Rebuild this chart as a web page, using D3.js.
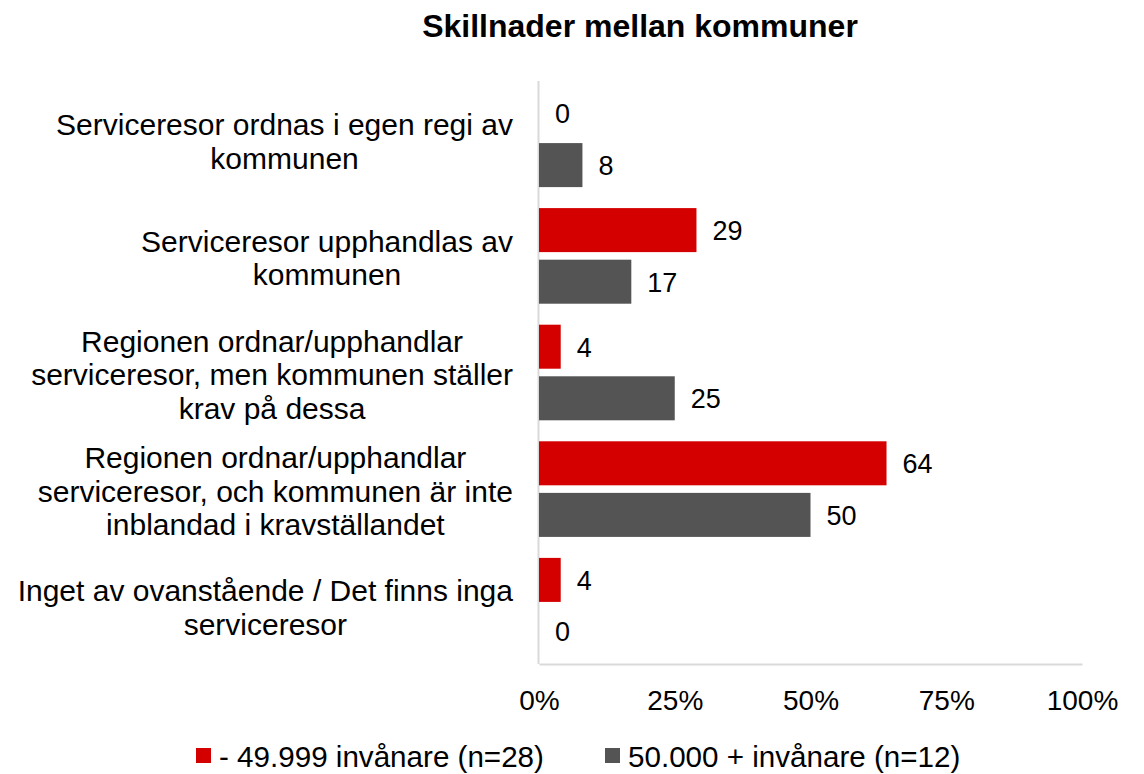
<!DOCTYPE html>
<html>
<head>
<meta charset="utf-8">
<script src="https://cdn.jsdelivr.net/npm/d3@7"></script>
<style>
  body { margin: 0; background: #fff; }
  text { font-family: "Liberation Sans", Arial, sans-serif; fill: #000; }
</style>
</head>
<body>
<svg id="chart" width="1144" height="774"></svg>
<script>
// data
const categories = [
  ["Serviceresor ordnas i egen regi av", "kommunen"],
  ["Serviceresor upphandlas av", "kommunen"],
  ["Regionen ordnar/upphandlar", "serviceresor, men kommunen ställer", "krav på dessa"],
  ["Regionen ordnar/upphandlar", "serviceresor, och kommunen är inte", "inblandad i kravställandet"],
  ["Inget av ovanstående / Det finns inga", "serviceresor"]
];
const seriesNames = ["- 49.999 invånare (n=28)", "50.000 + invånare (n=12)"];
const smallValues = [0, 29, 4, 64, 4];
const largeValues = [8, 17, 25, 50, 0];
const tickValues = [0, 25, 50, 75, 100];
const colors = ["#d40000", "#545454"];

const svg = d3.select("#chart");
const plotLeft = 539, plotRight = 1082, plotTop = 81, plotBottom = 664;

const x = d3.scaleLinear().domain([0, 100]).range([plotLeft, plotRight]);
const y0 = d3.scaleBand()
  .domain(d3.range(categories.length))
  .range([plotTop, plotBottom])
  .paddingInner(0.18)
  .paddingOuter(0.09);
const y1 = d3.scaleBand()
  .domain([0, 1])
  .range([0, y0.bandwidth()])
  .paddingInner(0.147);

// title
svg.append("text")
  .attr("x", 640).attr("y", 37)
  .attr("text-anchor", "middle")
  .style("font-size", "32px").style("font-weight", "bold")
  .text("Skillnader mellan kommuner");

// axes
const xAxis = svg.append("g")
  .attr("transform", `translate(0,${plotBottom})`)
  .call(d3.axisBottom(x).tickValues(tickValues).tickSize(0).tickSizeOuter(0)
    .tickPadding(26).tickFormat(d => d + "%"));
xAxis.select(".domain").attr("stroke", "#d9d9d9").attr("stroke-width", 2);
xAxis.selectAll("text").style("font-size", "28px").attr("fill", "#000")
  .style("font-family", "'Liberation Sans', Arial, sans-serif");

svg.append("line")
  .attr("x1", plotLeft - 0.5).attr("x2", plotLeft - 0.5)
  .attr("y1", plotTop).attr("y2", plotBottom)
  .attr("stroke", "#d9d9d9").attr("stroke-width", 2);

// category labels: each block right-aligned at 513, lines centred inside the block
const lineH = 33.5;
const labelRight = 513;
categories.forEach((lines, i) => {
  const cy = y0(i) + y0.bandwidth() / 2 + 2;
  const t = svg.append("text")
    .attr("text-anchor", "middle")
    .style("font-size", "30px");
  const spans = lines.map((ln, j) => t.append("tspan")
    .attr("y", cy + (j - (lines.length - 1) / 2) * lineH)
    .attr("dominant-baseline", "central")
    .text(ln));
  const maxW = d3.max(spans, s => s.node().getComputedTextLength());
  spans.forEach(s => s.attr("x", labelRight - maxW / 2));
});

// bars
const rows = categories.map((c, i) => [smallValues[i], largeValues[i]]);
const groups = svg.selectAll(".grp")
  .data(rows)
  .enter().append("g")
  .attr("class", "grp")
  .attr("transform", (d, i) => `translate(0,${y0(i)})`);

groups.selectAll("rect")
  .data(d => d)
  .enter().append("rect")
  .attr("x", x(0))
  .attr("y", (d, j) => y1(j))
  .attr("width", d => x(d) - x(0))
  .attr("height", y1.bandwidth())
  .attr("fill", (d, j) => colors[j]);

groups.selectAll(".val")
  .data(d => d)
  .enter().append("text")
  .attr("class", "val")
  .attr("x", d => x(d) + 16)
  .attr("y", (d, j) => y1(j) + y1.bandwidth() / 2 + 1)
  .attr("dominant-baseline", "central")
  .style("font-size", "27px")
  .text(d => d);

// legend
const legendX = [196, 605];
seriesNames.forEach((name, i) => {
  svg.append("rect")
    .attr("x", legendX[i]).attr("y", 748)
    .attr("width", 15).attr("height", 15)
    .attr("fill", colors[i]);
  svg.append("text")
    .attr("x", legendX[i] + 23).attr("y", 756)
    .attr("dominant-baseline", "central")
    .style("font-size", "29.6px")
    .text(name);
});
</script>
</body>
</html>
